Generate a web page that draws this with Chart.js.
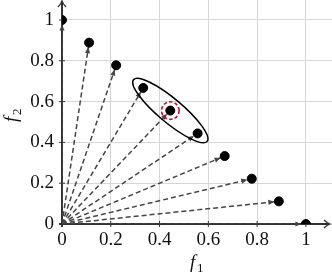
<!DOCTYPE html>
<html>
<head>
<meta charset="utf-8">
<script src="https://cdn.jsdelivr.net/npm/chart.js@4"></script>
<style>
  body { margin: 0; background: #fff; }
  #wrap { width: 332px; height: 273px; }
</style>
</head>
<body>
<div id="wrap"><canvas id="fronten"></canvas></div>
<script>
// punkter på fronten (f1, f2)
const f1 = [0, 0.111, 0.222, 0.333, 0.444, 0.556, 0.667, 0.778, 0.889, 1];
const f2 = [1, 0.889, 0.778, 0.667, 0.556, 0.444, 0.333, 0.222, 0.111, 0];
const tickVerdier = [0, 0.2, 0.4, 0.6, 0.8, 1];
const tickTekst = ['0', '0.2', '0.4', '0.6', '0.8', '1'];
// markert punkt og ellipse rundt et utvalg
const markert = [0.444, 0.556];
const ellipseEnder = [[0.293, 0.707], [0.595, 0.405]];

const serif = '"Liberation Serif", "DejaVu Serif", serif';

// en stiplet linje fra origo til hvert punkt
const pilSett = f1.map((x, i) => ({
  type: 'line',
  data: [{ x: 0, y: 0 }, { x: x, y: f2[i] }],
  borderColor: '#454545',
  borderWidth: 1.5,
  borderDash: [5, 3],
  pointRadius: 0,
  fill: false,
  pil: true
}));

const punktSett = {
  type: 'scatter',
  data: f1.map((x, i) => ({ x: x, y: f2[i] })),
  backgroundColor: '#000',
  borderColor: '#000',
  pointRadius: 4.5,
  pointHoverRadius: 4.5
};

// tegner akser med piler og tick-streker
const akser = {
  id: 'akser',
  beforeDatasetsDraw(chart) {
    const { ctx, chartArea, scales } = chart;
    const x0 = scales.x.getPixelForValue(0);
    const y0 = scales.y.getPixelForValue(0);
    ctx.save();
    ctx.strokeStyle = '#333';
    ctx.lineWidth = 2;
    ctx.beginPath();
    ctx.moveTo(x0 - 3, y0);
    ctx.lineTo(chartArea.right - 3, y0);
    ctx.moveTo(x0, y0 + 3);
    ctx.lineTo(x0, chartArea.top + 1);
    ctx.stroke();
    // pilhoder
    ctx.lineWidth = 1.3;
    ctx.beginPath();
    ctx.moveTo(chartArea.right - 8, y0 - 4);
    ctx.quadraticCurveTo(chartArea.right - 5, y0 - 1, chartArea.right - 2, y0);
    ctx.quadraticCurveTo(chartArea.right - 5, y0 + 1, chartArea.right - 8, y0 + 4);
    ctx.moveTo(x0 - 4, chartArea.top + 7);
    ctx.quadraticCurveTo(x0 - 1, chartArea.top + 4, x0, chartArea.top + 1);
    ctx.quadraticCurveTo(x0 + 1, chartArea.top + 4, x0 + 4, chartArea.top + 7);
    ctx.stroke();
    // tick-streker
    ctx.lineWidth = 1;
    ctx.beginPath();
    tickVerdier.forEach(v => {
      const px = scales.x.getPixelForValue(v);
      const py = scales.y.getPixelForValue(v);
      ctx.moveTo(px, y0 - 3);
      ctx.lineTo(px, y0 + 3);
      ctx.moveTo(x0 - 3, py);
      ctx.lineTo(x0 + 3, py);
    });
    ctx.stroke();
    ctx.restore();
  },
  afterDatasetDraw(chart, args) {
    const ds = chart.data.datasets[args.index];
    if (!ds.pil) return;
    const { ctx, scales } = chart;
    const ox = scales.x.getPixelForValue(ds.data[0].x);
    const oy = scales.y.getPixelForValue(ds.data[0].y);
    const px = scales.x.getPixelForValue(ds.data[1].x);
    const py = scales.y.getPixelForValue(ds.data[1].y);
    const len = Math.hypot(px - ox, py - oy);
    const ux = (px - ox) / len, uy = (py - oy) / len;
    const tx = px - ux * 4.5, ty = py - uy * 4.5;
    const bx = tx - ux * 6, by = ty - uy * 6;
    ctx.save();
    ctx.fillStyle = '#454545';
    ctx.beginPath();
    ctx.moveTo(tx, ty);
    ctx.lineTo(bx - uy * 2.6, by + ux * 2.6);
    ctx.lineTo(bx + uy * 2.6, by - ux * 2.6);
    ctx.closePath();
    ctx.fill();
    ctx.restore();
  },
  afterDatasetsDraw(chart) {
    const { ctx, scales } = chart;
    const ax = scales.x.getPixelForValue(ellipseEnder[0][0]);
    const ay = scales.y.getPixelForValue(ellipseEnder[0][1]);
    const bx = scales.x.getPixelForValue(ellipseEnder[1][0]);
    const by = scales.y.getPixelForValue(ellipseEnder[1][1]);
    ctx.save();
    ctx.strokeStyle = '#000';
    ctx.lineWidth = 1.5;
    ctx.beginPath();
    ctx.ellipse((ax + bx) / 2, (ay + by) / 2, Math.hypot(bx - ax, by - ay) / 2, 12,
      Math.atan2(by - ay, bx - ax), 0, Math.PI * 2);
    ctx.stroke();
    // rød stiplet sirkel
    const mx = scales.x.getPixelForValue(markert[0]);
    const my = scales.y.getPixelForValue(markert[1]);
    ctx.strokeStyle = '#c8102e';
    ctx.lineWidth = 1.6;
    ctx.setLineDash([3.5, 2.2]);
    ctx.beginPath();
    ctx.arc(mx, my, 8.8, 0, Math.PI * 2);
    ctx.stroke();
    ctx.restore();
  },
  afterDraw(chart) {
    const { ctx, scales } = chart;
    ctx.save();
    ctx.fillStyle = '#111';
    ctx.textBaseline = 'alphabetic';
    // f1
    ctx.font = 'italic 19px ' + serif;
    const fx = (scales.x.left + scales.x.right) / 2 - 7;
    ctx.fillText('f', fx, 268);
    ctx.font = '13px ' + serif;
    ctx.fillText('1', fx + 7, 272);
    // f2
    ctx.translate(17, 122);
    ctx.rotate(-Math.PI / 2);
    ctx.font = 'italic 19px ' + serif;
    ctx.fillText('f', 0, 0);
    ctx.font = '13px ' + serif;
    ctx.fillText('2', 7, 4);
    ctx.restore();
  }
};

function nullPadding(s) {
  s.paddingTop = 0;
  s.paddingBottom = 0;
  s.paddingLeft = 0;
  s.paddingRight = 0;
}

function lagGraf() {
  const ctx = document.getElementById('fronten').getContext('2d');
  new Chart(ctx, {
    type: 'scatter',
    data: { datasets: [punktSett].concat(pilSett) },
    options: {
      responsive: true,
      maintainAspectRatio: false,
      animation: false,
      events: [],
      layout: { padding: 0, autoPadding: false },
      plugins: { legend: { display: false }, tooltip: { enabled: false } },
      scales: {
        x: {
          type: 'linear',
          min: 0,
          max: 1.107,
          afterBuildTicks: s => { s.ticks = tickVerdier.map(v => ({ value: v })); },
          afterFit: s => { s.height = 49; nullPadding(s); },
          border: { display: false },
          grid: { color: '#d6d6d6', lineWidth: 1, drawTicks: false },
          ticks: {
            padding: 5,
            maxRotation: 0,
            color: '#111',
            font: { family: serif, size: 19 },
            callback: (v, i) => tickTekst[i]
          }
        },
        y: {
          type: 'linear',
          min: 0,
          max: 1.098,
          afterBuildTicks: s => { s.ticks = tickVerdier.map(v => ({ value: v })); },
          afterFit: s => { s.width = 62; nullPadding(s); },
          border: { display: false },
          grid: { color: '#d6d6d6', lineWidth: 1, drawTicks: false },
          ticks: {
            padding: 8,
            color: '#111',
            font: { family: serif, size: 19 },
            callback: (v, i) => tickTekst[i]
          }
        }
      }
    },
    plugins: [akser]
  });
}

window.onload = function() {
  lagGraf();
};
</script>
</body>
</html>
